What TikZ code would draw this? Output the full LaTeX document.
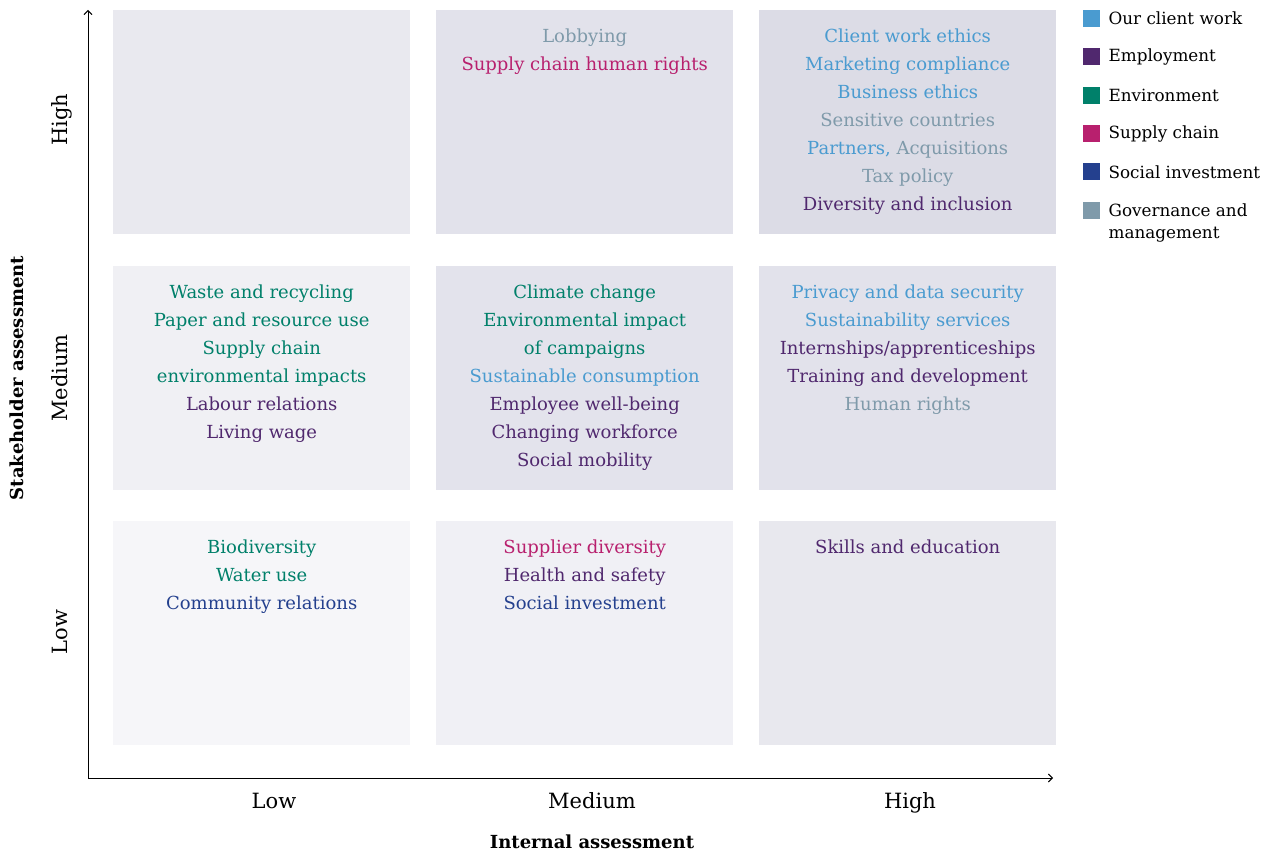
\documentclass[tikz,border=0pt]{standalone}
\usepackage{fontspec}
\setmainfont{DejaVu Serif}
\usetikzlibrary{arrows.meta, positioning}

\definecolor{clientwork}{HTML}{4A9BD0}
\definecolor{employment}{HTML}{50286E}
\definecolor{environment}{HTML}{00806A}
\definecolor{supplychain}{HTML}{B8206E}
\definecolor{socialinv}{HTML}{24408E}
\definecolor{governance}{HTML}{7F9AAA}
\definecolor{cellhl}{HTML}{E9E9EF}
\definecolor{cellhm}{HTML}{E2E2EB}
\definecolor{cellhh}{HTML}{DCDCE6}
\definecolor{cellml}{HTML}{F0F0F4}
\definecolor{cellmm}{HTML}{E3E3EC}
\definecolor{cellmh}{HTML}{E2E2EB}
\definecolor{cellll}{HTML}{F6F6F9}
\definecolor{celllm}{HTML}{F0F0F5}
\definecolor{celllh}{HTML}{E8E8EE}

\tikzset{
	cell/.style={fill=#1, draw=none, inner sep=0, minimum width=297, minimum height=224, anchor=north west},
	items/.style={align=center, inner sep=0, anchor=north, font=\fontsize{18}{28}\selectfont},
	tick/.style={inner sep=0, text height=15pt, text depth=5pt, font=\fontsize{21}{24}\selectfont},
	title/.style={inner sep=0, text height=13pt, text depth=4pt, font=\fontsize{18}{22}\selectfont\bfseries},
	axis/.style={line width=0.9pt, -{Straight Barb[length=4pt, width=8pt]}},
	key/.style={fill=#1, draw=none, inner sep=0, minimum size=17, anchor=north west},
	keytext/.style={inner sep=0, anchor=west, align=left, font=\fontsize{16.8}{23}\selectfont},
}

\begin{document}
\begin{tikzpicture}[x=1pt, y=-1pt]
	\useasboundingbox[fill=white] (0,0) rectangle (1277,853);

	% the nine cells
	\node[cell=cellhl] (hl) at (113,10) {};
	\node[cell=cellhm] (hm) at (436,10) {};
	\node[cell=cellhh] (hh) at (759,10) {};
	\node[cell=cellml] (ml) at (113,266) {};
	\node[cell=cellmm] (mm) at (436,266) {};
	\node[cell=cellmh] (mh) at (759,266) {};
	\node[cell=cellll] (ll) at (113,521) {};
	\node[cell=celllm] (lm) at (436,521) {};
	\node[cell=celllh] (lh) at (759,521) {};

	\node[items, below=19pt of hm.north] (hmtext) {\color{governance}Lobbying\\
		\color{supplychain}Supply chain human rights};
	\node[items, below=19pt of hh.north] (hhtext) {\color{clientwork}Client work ethics\\
		\color{clientwork}Marketing compliance\\
		\color{clientwork}Business ethics\\
		\color{governance}Sensitive countries\\
		\color{clientwork}Partners, \color{governance}Acquisitions\\
		\color{governance}Tax policy\\
		\color{employment}Diversity and inclusion};
	\node[items, below=19pt of ml.north] (mltext) {\color{environment}Waste and recycling\\
		\color{environment}Paper and resource use\\
		\color{environment}Supply chain\\
		\color{environment}environmental impacts\\
		\color{employment}Labour relations\\
		\color{employment}Living wage};
	\node[items, below=19pt of mm.north] (mmtext) {\color{environment}Climate change\\
		\color{environment}Environmental impact\\
		\color{environment}of campaigns\\
		\color{clientwork}Sustainable consumption\\
		\color{employment}Employee well-being\\
		\color{employment}Changing workforce\\
		\color{employment}Social mobility};
	\node[items, below=19pt of mh.north] (mhtext) {\color{clientwork}Privacy and data security\\
		\color{clientwork}Sustainability services\\
		\color{employment}Internships/apprenticeships\\
		\color{employment}Training and development\\
		\color{governance}Human rights};
	\node[items, below=19pt of ll.north] (lltext) {\color{environment}Biodiversity\\
		\color{environment}Water use\\
		\color{socialinv}Community relations};
	\node[items, below=19pt of lm.north] (lmtext) {\color{supplychain}Supplier diversity\\
		\color{employment}Health and safety\\
		\color{socialinv}Social investment};
	\node[items, below=19pt of lh.north] (lhtext) {\color{employment}Skills and education};

	% axes
	\coordinate (origin) at (88,778);
	\coordinate (ytop) at (88,10);
	\coordinate (xend) at (1053,778);
	\draw[axis] (origin) -- (ytop);
	\draw[axis] (origin) -- (xend);

	\node[tick] (xlow) at (274,803) {Low};
	\node[tick] (xmed) at (592,803) {Medium};
	\node[tick] (xhigh) at (910,803) {High};
	\node[tick, rotate=90] (yhigh) at (62,120) {High};
	\node[tick, rotate=90] (ymed) at (62,378) {Medium};
	\node[tick, rotate=90] (ylow) at (62,632) {Low};
	\node[title] (xtitle) at (592,844) {Internal assessment};
	\node[title, rotate=90] (ytitle) at (19,378) {Stakeholder assessment};

	% legend
	\foreach \col/\txt [count=\i from 0] in {clientwork/Our client work, employment/Employment,
		environment/Environment, supplychain/Supply chain, socialinv/Social investment,
		governance/Governance and} {
		\node[key=\col] (key\i) at (1083,{10+38.3*\i}) {};
		\node[keytext, right=8pt of key\i.east] (keytext\i) {\txt};
	}
	\node[keytext, below=10pt of keytext5.south west, anchor=north west] (keytext6) {management};
\end{tikzpicture}
\end{document}
